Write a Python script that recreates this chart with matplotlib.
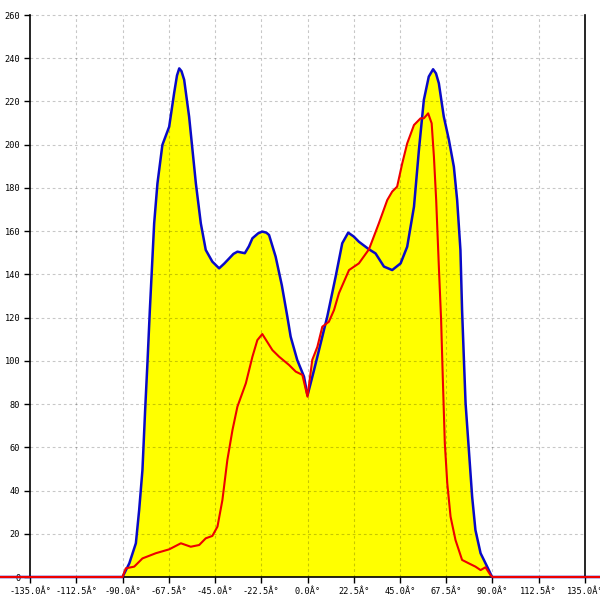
import numpy as np
import matplotlib
matplotlib.use("Agg")
import matplotlib.pyplot as plt

# blue curve (angle in degrees, value)
blue_x = [-150, -90, -86.7, -83.5, -81.9, -80.3, -79, -77.8, -76.7, -74.6, -73, -70.6,
          -67.3, -64.9, -63.5, -62.4, -61.3, -60, -57.6, -54.3, -51.9, -49.5, -46.3,
          -43, -40.5, -38.1, -36, -34.1, -30.5, -28.5, -26.8, -24, -22, -20, -18.7,
          -15.5, -12.5, -9.8, -8.2, -5, -1.7, 0, 3.2, 6.4, 9.6, 13.7, 16.9, 19.8,
          22.5, 25, 29.9, 33.1, 37.2, 41.2, 45.3, 48.5, 51.8, 54.2, 56.6, 59, 61.1,
          62.5, 63.9, 66.3, 68.8, 71.2, 72.8, 74.4, 75.2, 76.1, 76.9, 78.5, 80.1,
          81.7, 84.2, 87.4, 89.8, 150]
blue_y = [0, 0, 6.3, 15.6, 31, 49.5, 77, 100.4, 123.5, 163.6, 182.1, 199.9,
          208.3, 223.8, 232, 235.3, 234, 230, 213, 182, 163.6, 151.3, 145.9,
          142.8, 145, 147.4, 149.5, 150.5, 149.8, 153, 156.7, 159, 159.8, 159.3, 158.2,
          148.2, 135, 120.4, 111.2, 100.4, 92.7, 84, 95.8, 108.1, 120.4, 139, 154.4, 159.3,
          157.5, 155.1, 151.6, 149.7, 143.6, 142, 145.1, 152.8, 171.3, 197.5, 220.7, 231.5, 234.9,
          233, 228.4, 213, 202.2, 189.8, 174.4, 151.3, 123.5, 100.4, 80.4, 58.8, 37.1,
          21.7, 11, 4.8, 0, 0]

# red curve
red_x = [-150, -90, -88.4, -84.3, -80.3, -73.8, -67.3, -61.6, -56.8, -52.7, -49.5, -46.3,
         -43.8, -41.4, -39, -36.5, -34.1, -30, -26.8, -24.4, -22, -17.1, -13.8, -9,
         -5.7, -2.5, 0, 2.3, 4.8, 7.2, 10.4, 12.9, 15.3, 20.2, 25, 29.9, 34.7, 38.8,
         41.2, 43.6, 46.1, 48.5, 51.8, 55, 56.6, 58.7, 60.4, 61.5, 62.6, 63.9, 65,
         65.8, 66.8, 68, 69.6, 72, 75.2, 78.5, 81.7, 84.2, 86.6, 89, 90, 150]
red_y = [0, 0, 4, 4.8, 8.6, 11, 12.8, 15.6, 14, 14.8, 17.9, 19,
         23.3, 35.6, 54.1, 68, 78.8, 89.6, 101.9, 109.6, 112.4, 105, 101.9, 98.1,
         95, 93.5, 83.4, 100.4, 106.5, 115.8, 118.1, 123.5, 131.3, 142, 145.1, 151.6, 163.6, 174.4,
         178.3, 180.6, 191.4, 200.6, 209.1, 212.2, 212.2, 214.5, 209.9, 194.5, 174.4, 143.6, 118.9,
         92.7, 61.9, 43.3, 27.9, 17.1, 7.9, 6.3, 4.8, 3.2, 4.5, 0.9, 0, 0]

x_ticks = [-135, -112.5, -90, -67.5, -45, -22.5, 0, 22.5, 45, 67.5, 90, 112.5, 135]
y_ticks = list(range(0, 261, 20))

fig = plt.figure(figsize=(6, 6), dpi=100)
ax = fig.add_axes([0, 0, 1, 1])

ax.fill_between(blue_x, 0, blue_y, color="#ffff00", lw=0, zorder=1)
ax.fill_between(red_x, 0, red_y, color="#ffff00", lw=0, zorder=1)

# dashed grid
grid_kw = dict(colors="#000000", alpha=0.22, linestyles=(0, (2.5, 2.5)), lw=0.8, zorder=1.5)
ax.hlines(y_ticks[1:], -135, 135, **grid_kw)
ax.vlines(x_ticks[1:-1], 0, 260, **grid_kw)

ax.plot(blue_x, blue_y, color="#0a0ac8", lw=1.8, zorder=3)
ax.plot(red_x, red_y, color="#ee0000", lw=1.5, zorder=4)

ax.set_xlim(-149.6, 142.3)
ax.set_ylim(-10.64, 266.94)

ax.spines["top"].set_visible(False)
ax.spines["left"].set_position(("data", -135))
ax.spines["left"].set_bounds(0, 260)
ax.spines["right"].set_position(("data", 135))
ax.spines["right"].set_bounds(0, 260)
ax.spines["bottom"].set_position(("data", 0))
ax.spines["bottom"].set_bounds(-135, 135)
for s in ax.spines.values():
    s.set_linewidth(1.2)

ax.set_xticks(x_ticks)
ax.set_xticklabels(["%.1fÂ°" % t for t in x_ticks])
ax.set_yticks(y_ticks)
ax.set_yticklabels([str(t) for t in y_ticks])
ax.yaxis.set_ticks_position("left")
ax.tick_params(direction="out", length=4, width=1, labelsize=6.2, pad=3)
for lab in ax.get_xticklabels() + ax.get_yticklabels():
    lab.set_family("DejaVu Sans Mono")

fig.savefig("out.png", dpi=100)
